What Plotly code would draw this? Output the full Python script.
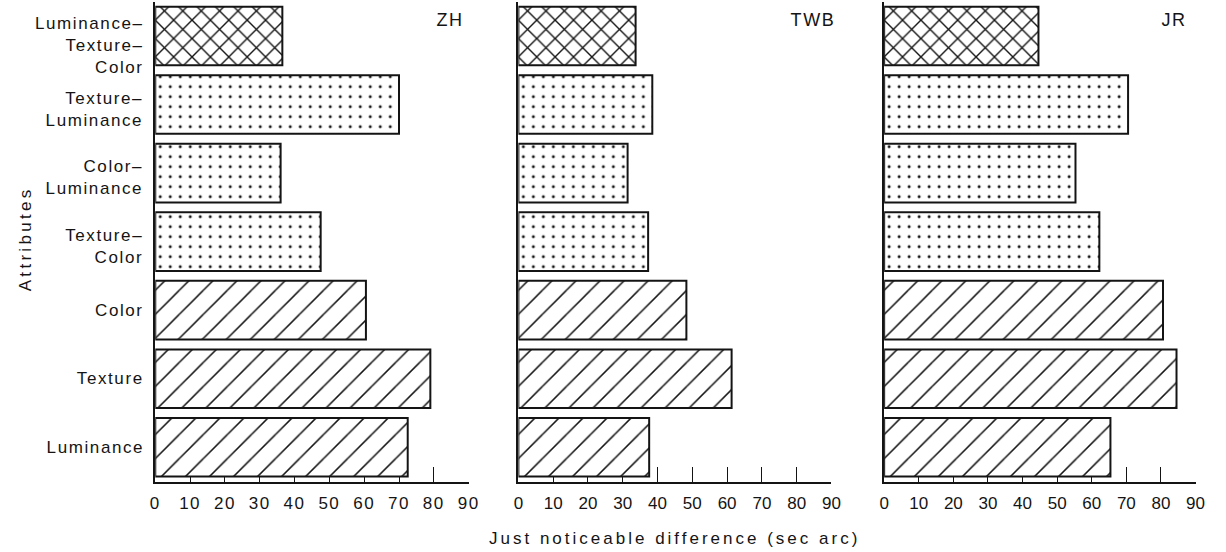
import plotly.graph_objects as go

# ---- data ----
categories = ["Luminance", "Texture", "Color", "Texture–<br>Color",
              "Color–<br>Luminance", "Texture–<br>Luminance",
              "Luminance–<br>Texture–<br>Color"]
zh_values = [72.5, 79, 60.5, 47.5, 36, 70, 36.5]
twb_values = [37.6, 61.3, 48.3, 37.3, 31.4, 38.5, 33.7]
jr_values = [65.4, 84.5, 80.6, 62.2, 55.3, 70.5, 44.6]
panel_names = ["ZH", "TWB", "JR"]
tick_values = [0, 10, 20, 30, 40, 50, 60, 70, 80, 90]

pattern_shapes = ["/", "/", "/", ".", ".", ".", "x"]
pattern_sizes = [17, 17, 17, 10, 10, 10, 13]
pattern_solid = [0.09, 0.09, 0.09, 0.07, 0.07, 0.07, 0.2]

W, H = 1226, 552
FONT = "Liberation Sans, Arial, sans-serif"
INK = "#141414"

# pixel positions of axis 0..90 for each panel
x_dom_px = [(152, 469), (519.3, 836), (889.3, 1204.3)]
y_dom_px = (1.75, 481.5)  # top, bottom

fig = go.Figure()
all_values = [zh_values, twb_values, jr_values]
for i, vals in enumerate(all_values):
    ax = "" if i == 0 else str(i + 1)
    fig.add_trace(go.Bar(
        x=vals, y=categories, orientation="h",
        xaxis="x" + ax, yaxis="y" + ax,
        marker=dict(
            color="white",
            line=dict(color=INK, width=2),
            pattern=dict(shape=pattern_shapes, size=pattern_sizes,
                         solidity=pattern_solid, fgcolor=INK,
                         bgcolor="white", fillmode="replace"),
        ),
        showlegend=False, hoverinfo="x+y",
    ))

layout = dict(
    width=W, height=H,
    margin=dict(l=0, r=0, t=0, b=0),
    paper_bgcolor="white", plot_bgcolor="rgba(0,0,0,0)",
    bargap=0.145,
    font=dict(family=FONT, size=16, color=INK),
)
ydom = [1 - y_dom_px[1] / H, 1 - y_dom_px[0] / H]
for i in range(3):
    ax = "" if i == 0 else str(i + 1)
    layout["xaxis" + ax] = dict(
        domain=[x_dom_px[i][0] / W, x_dom_px[i][1] / W],
        range=[0, 90], anchor="y" + ax,
        tickvals=tick_values, ticks="inside", ticklen=15, tickwidth=1.3,
        tickcolor=INK, showline=True, linecolor=INK, linewidth=1.6,
        showgrid=False, zeroline=False, layer="below traces",
        tickfont=dict(size=17, family=FONT, color=INK),
        ticklabelstandoff=5, fixedrange=True,
    )
    layout["yaxis" + ax] = dict(
        domain=ydom, anchor="x" + ax,
        type="category", categoryorder="array", categoryarray=categories,
        range=[-0.5, 6.5],
        showline=True, linecolor=INK, linewidth=1.6, showgrid=False,
        zeroline=False, ticks="", showticklabels=False,
        fixedrange=True, layer="below traces",
    )
fig.update_layout(**layout)

# category labels (placed on the category axis, nudged down like the original)
for cat in categories:
    n_lines = cat.count("<br>") + 1
    fig.add_annotation(text=cat, x=143 / W, xref="paper", y=cat, yref="y",
                       showarrow=False, xanchor="right", yanchor="middle",
                       align="right", yshift=-4.5 * (n_lines - 1),
                       font=dict(size=17, family=FONT, color=INK))

# panel labels
panel_label_px = [450, 817, 1183]
for name, px in zip(panel_names, panel_label_px):
    fig.add_annotation(text=name, x=px / W, y=1 - 20 / H, xref="paper", yref="paper",
                       showarrow=False, xanchor="center", yanchor="middle",
                       font=dict(size=18, family=FONT, color=INK))
fig.add_annotation(text="Just noticeable difference (sec arc)", x=677 / W, y=1 - 538 / H,
                   xref="paper", yref="paper", showarrow=False,
                   xanchor="center", yanchor="middle",
                   font=dict(size=17, family=FONT, color=INK))
fig.add_annotation(text="Attributes", x=20 / W, y=1 - 239 / H, xref="paper", yref="paper",
                   showarrow=False, textangle=-90, xanchor="center", yanchor="middle",
                   font=dict(size=17, family=FONT, color=INK))

n_cat = len(categories)
idx_title = n_cat + len(panel_names)
idx_attr = idx_title + 1
css = (".xtick text{letter-spacing:1.5px}"
       ".annotation text{letter-spacing:1.6px}"
       ".annotation[data-index='%d'] text{letter-spacing:3px}"
       ".annotation[data-index='%d'] text{letter-spacing:3.3px}" % (idx_title, idx_attr))
post = ("var s=document.createElement('style');s.textContent=\"" + css +
        "\";document.head.appendChild(s);")
fig.write_html("out.html", post_script=post)
